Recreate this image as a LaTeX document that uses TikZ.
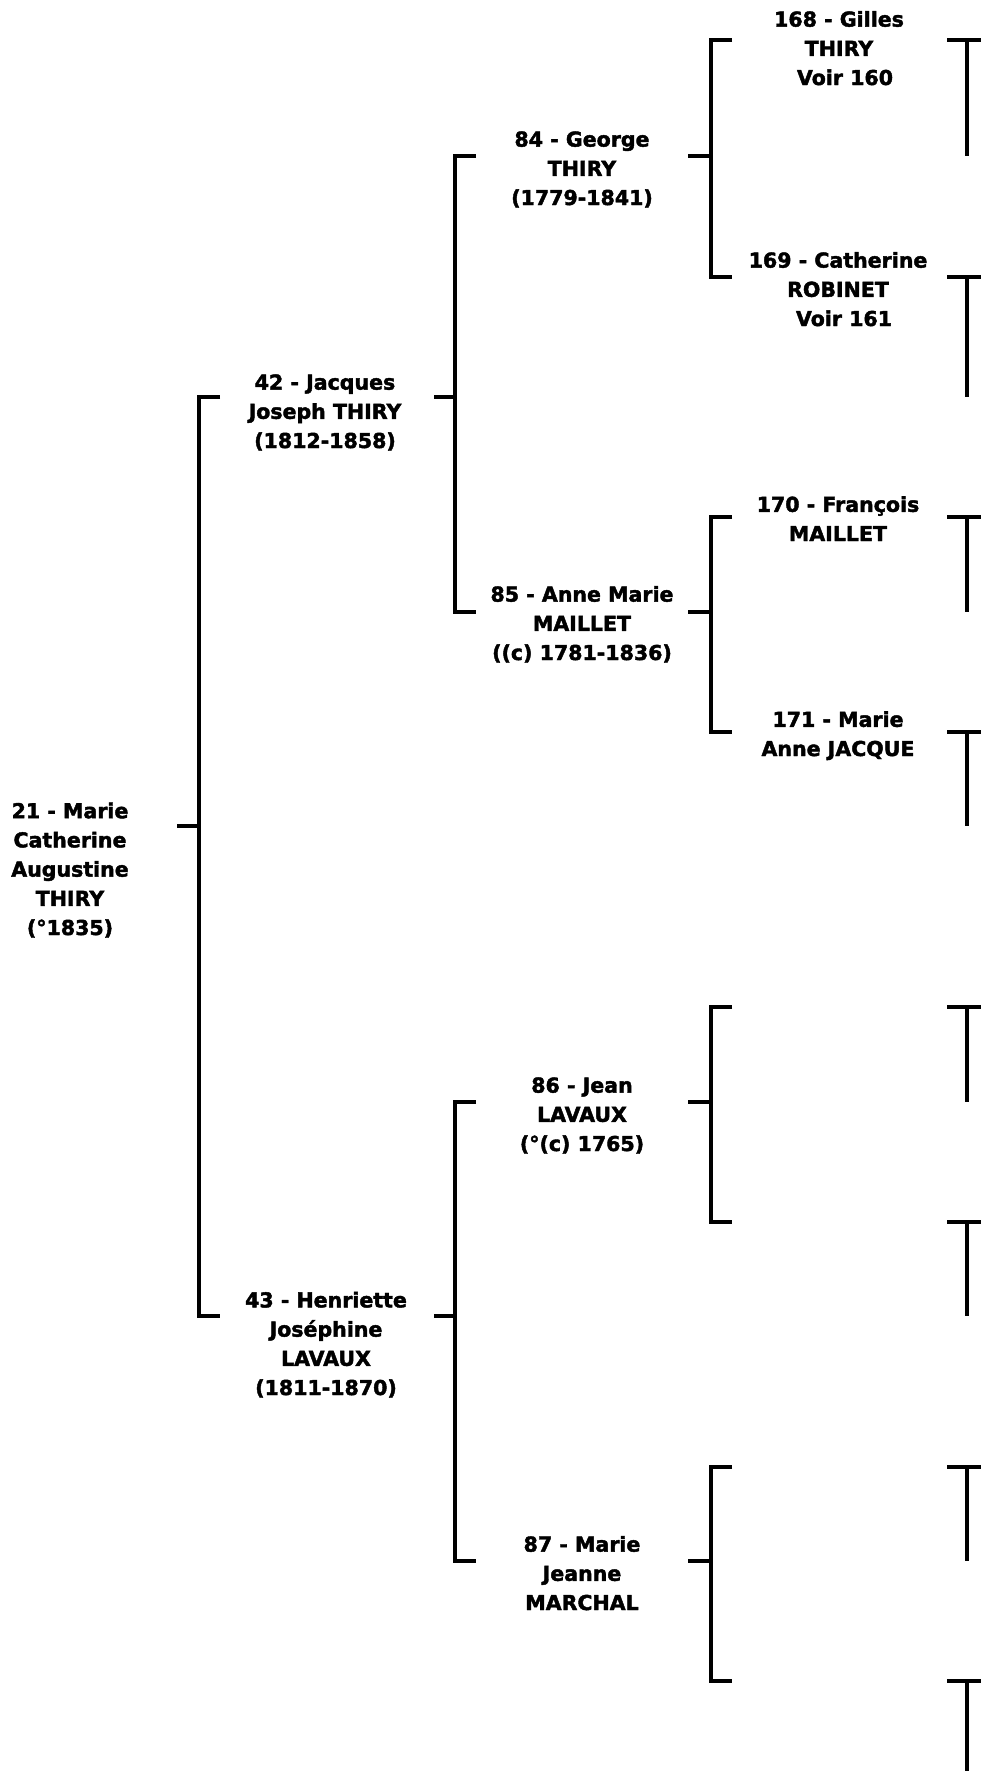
\documentclass[tikz,border=0pt]{standalone}
\usepackage{fontspec}
\newfontfamily\treefont{DejaVu Sans Bold}[FakeBold=2]
\begin{document}
\begin{tikzpicture}[x=0.75pt,y=-0.75pt]
\tikzstyle{pers}=[align=center,anchor=base,inner sep=0pt,font=\treefont\fontsize{15.4}{21.9}\selectfont]
\tikzstyle{lnk}=[line width=2.8pt,line join=miter]
\useasboundingbox (0,0) rectangle (981,1771);
% ends of the lines at the right and bottom border
\coordinate (gx) at (967,0);
\coordinate (ex) at (981,0);
\coordinate (bot) at (0,1771);
% generations 0 and 1
\coordinate (r21) at (177,826);
\coordinate (c42) at (220,397);  \coordinate (r42) at (434,397);
\coordinate (c43) at (220,1316); \coordinate (r43) at (434,1316);
% generation 2
\coordinate (c84) at (476,156);  \coordinate (r84) at (688,156);
\coordinate (c85) at (476,612);  \coordinate (r85) at (688,612);
\coordinate (c86) at (476,1102); \coordinate (r86) at (688,1102);
\coordinate (c87) at (476,1561); \coordinate (r87) at (688,1561);
% generation 3
\coordinate (c168) at (732,40);   \coordinate (r168) at (947,40);
\coordinate (c169) at (732,277);  \coordinate (r169) at (947,277);
\coordinate (c170) at (732,517);  \coordinate (r170) at (947,517);
\coordinate (c171) at (732,732);  \coordinate (r171) at (947,732);
\coordinate (c172) at (732,1007); \coordinate (r172) at (947,1007);
\coordinate (c173) at (732,1222); \coordinate (r173) at (947,1222);
\coordinate (c174) at (732,1467); \coordinate (r174) at (947,1467);
\coordinate (c175) at (732,1681); \coordinate (r175) at (947,1681);
% people (placed at the baseline of their last line)
\node[pers] (n21) at (70,935) {21 - Marie\\Catherine\\Augustine\\THIRY\\(°1835)};
\node[pers] (n42) at (325,448) {42 - Jacques\\Joseph THIRY\\(1812-1858)};
\node[pers] (n43) at (326,1395) {43 - Henriette\\Joséphine\\LAVAUX\\(1811-1870)};
\node[pers] (n84) at (582,205) {84 - George\\THIRY\\(1779-1841)};
\node[pers] (n85) at (582,660) {85 - Anne Marie\\MAILLET\\((c) 1781-1836)};
\node[pers] (n86) at (582,1151) {86 - Jean\\LAVAUX\\(°(c) 1765)};
\node[pers] (n87) at (582,1610) {87 - Marie\\Jeanne\\MARCHAL};
\node[pers] (n168) at (839,85) {168 - Gilles\\THIRY\\\hspace*{9pt}Voir 160};
\node[pers] (n169) at (838,326) {169 - Catherine\\ROBINET\\\hspace*{9pt}Voir 161};
\node[pers] (n170) at (838,541) {170 - François\\MAILLET};
\node[pers] (n171) at (838,756) {171 - Marie\\Anne JACQUE};
% brackets
\draw[lnk] (r21) -- ++(22,0) coordinate (v21);
\draw[lnk] (c42) -| (v21) |- (c43);
\draw[lnk] (r42) -- ++(21,0) coordinate (v42);
\draw[lnk] (c84) -| (v42) |- (c85);
\draw[lnk] (r43) -- ++(21,0) coordinate (v43);
\draw[lnk] (c86) -| (v43) |- (c87);
\draw[lnk] (r84) -- ++(23,0) coordinate (v84);
\draw[lnk] (c168) -| (v84) |- (c169);
\draw[lnk] (r85) -- ++(23,0) coordinate (v85);
\draw[lnk] (c170) -| (v85) |- (c171);
\draw[lnk] (r86) -- ++(23,0) coordinate (v86);
\draw[lnk] (c172) -| (v86) |- (c173);
\draw[lnk] (r87) -- ++(23,0) coordinate (v87);
\draw[lnk] (c174) -| (v87) |- (c175);
% cut off at the right border
\draw[lnk] (r168) -- (r168 -| ex); \draw[lnk] (r168 -| gx) -- (c84 -| gx);
\draw[lnk] (r169) -- (r169 -| ex); \draw[lnk] (r169 -| gx) -- (c42 -| gx);
\draw[lnk] (r170) -- (r170 -| ex); \draw[lnk] (r170 -| gx) -- (c85 -| gx);
\draw[lnk] (r171) -- (r171 -| ex); \draw[lnk] (r171 -| gx) -- (r21 -| gx);
\draw[lnk] (r172) -- (r172 -| ex); \draw[lnk] (r172 -| gx) -- (c86 -| gx);
\draw[lnk] (r173) -- (r173 -| ex); \draw[lnk] (r173 -| gx) -- (c43 -| gx);
\draw[lnk] (r174) -- (r174 -| ex); \draw[lnk] (r174 -| gx) -- (c87 -| gx);
\draw[lnk] (r175) -- (r175 -| ex); \draw[lnk] (r175 -| gx) -- (bot -| gx);
\end{tikzpicture}
\end{document}
